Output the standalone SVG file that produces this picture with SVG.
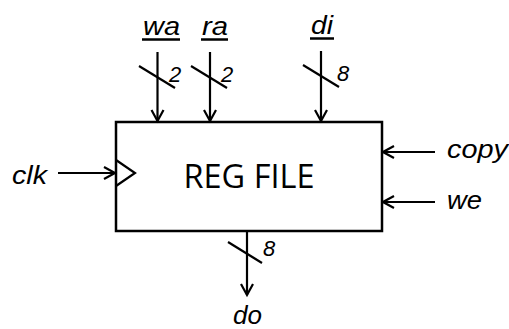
<svg xmlns="http://www.w3.org/2000/svg" width="509" height="329" viewBox="0 0 509 329">
<style>
.lbl{font-family:"Liberation Sans",Arial,sans-serif;font-style:italic;font-size:26.5px;fill:#000}
.num{font-family:"Liberation Sans",Arial,sans-serif;font-style:italic;font-size:22px;fill:#000}
.ttl{font-family:"Open Sans","Liberation Sans",sans-serif;font-size:32px;fill:#000}
.w{stroke:#000;stroke-width:2.2;fill:none}
.u{stroke:#000;stroke-width:2.5}
</style>
<defs>
<marker id="ah" markerUnits="userSpaceOnUse" markerWidth="16" markerHeight="16" viewBox="-13 -8 15 16" refX="0" refY="0" orient="auto">
<path d="M-11,-6 L0,0 L-11,6" fill="none" stroke="#000" stroke-width="2.2"/>
</marker>
</defs>
<g id="regfile">
<rect x="116" y="122" width="266" height="109" fill="#fff" stroke="#000" stroke-width="2.5"/>
<path d="M116,160 L135,173 L116,186" class="w"/>
<text class="ttl" x="249" y="188" text-anchor="middle" textLength="131" lengthAdjust="spacingAndGlyphs">REG FILE</text>
</g>
<g id="wa"><text class="lbl" x="143" y="35" textLength="37" lengthAdjust="spacingAndGlyphs">wa</text><line x1="142" y1="39.5" x2="180" y2="39.5" class="u"/></g>
<g id="ra"><text class="lbl" x="202" y="35" textLength="26" lengthAdjust="spacingAndGlyphs">ra</text><line x1="201" y1="39.5" x2="228" y2="39.5" class="u"/></g>
<g id="di"><text class="lbl" x="311" y="34" textLength="22" lengthAdjust="spacingAndGlyphs">di</text><line x1="310" y1="38.5" x2="334" y2="38.5" class="u"/></g>
<g id="clk"><text class="lbl" x="12" y="184" textLength="35" lengthAdjust="spacingAndGlyphs">clk</text></g>
<g id="copy"><text class="lbl" x="447" y="158" textLength="61" lengthAdjust="spacingAndGlyphs">copy</text></g>
<g id="we"><text class="lbl" x="447" y="209" textLength="35" lengthAdjust="spacingAndGlyphs">we</text></g>
<g id="do"><text class="lbl" x="233" y="324" textLength="29" lengthAdjust="spacingAndGlyphs">do</text></g>
<g id="connectors">
<line x1="157.5" y1="52" x2="157.5" y2="121" class="w" marker-end="url(#ah)"/>
<line x1="139" y1="66" x2="175" y2="88" class="w"/>
<text class="num" x="169" y="82">2</text>
<line x1="210" y1="52" x2="210" y2="121" class="w" marker-end="url(#ah)"/>
<line x1="191" y1="66" x2="227" y2="88" class="w"/>
<text class="num" x="221" y="82">2</text>
<line x1="321" y1="51" x2="321" y2="121" class="w" marker-end="url(#ah)"/>
<line x1="303" y1="65" x2="339" y2="87" class="w"/>
<text class="num" x="337" y="81">8</text>
<line x1="58" y1="173" x2="115" y2="173" class="w" marker-end="url(#ah)"/>
<line x1="435" y1="152" x2="383" y2="152" class="w" marker-end="url(#ah)"/>
<line x1="435" y1="202" x2="383" y2="202" class="w" marker-end="url(#ah)"/>
<line x1="247" y1="232" x2="247" y2="295" class="w" marker-end="url(#ah)"/>
<line x1="228" y1="242" x2="262" y2="263" class="w"/>
<text class="num" x="263" y="256">8</text>
</g>
</svg>
